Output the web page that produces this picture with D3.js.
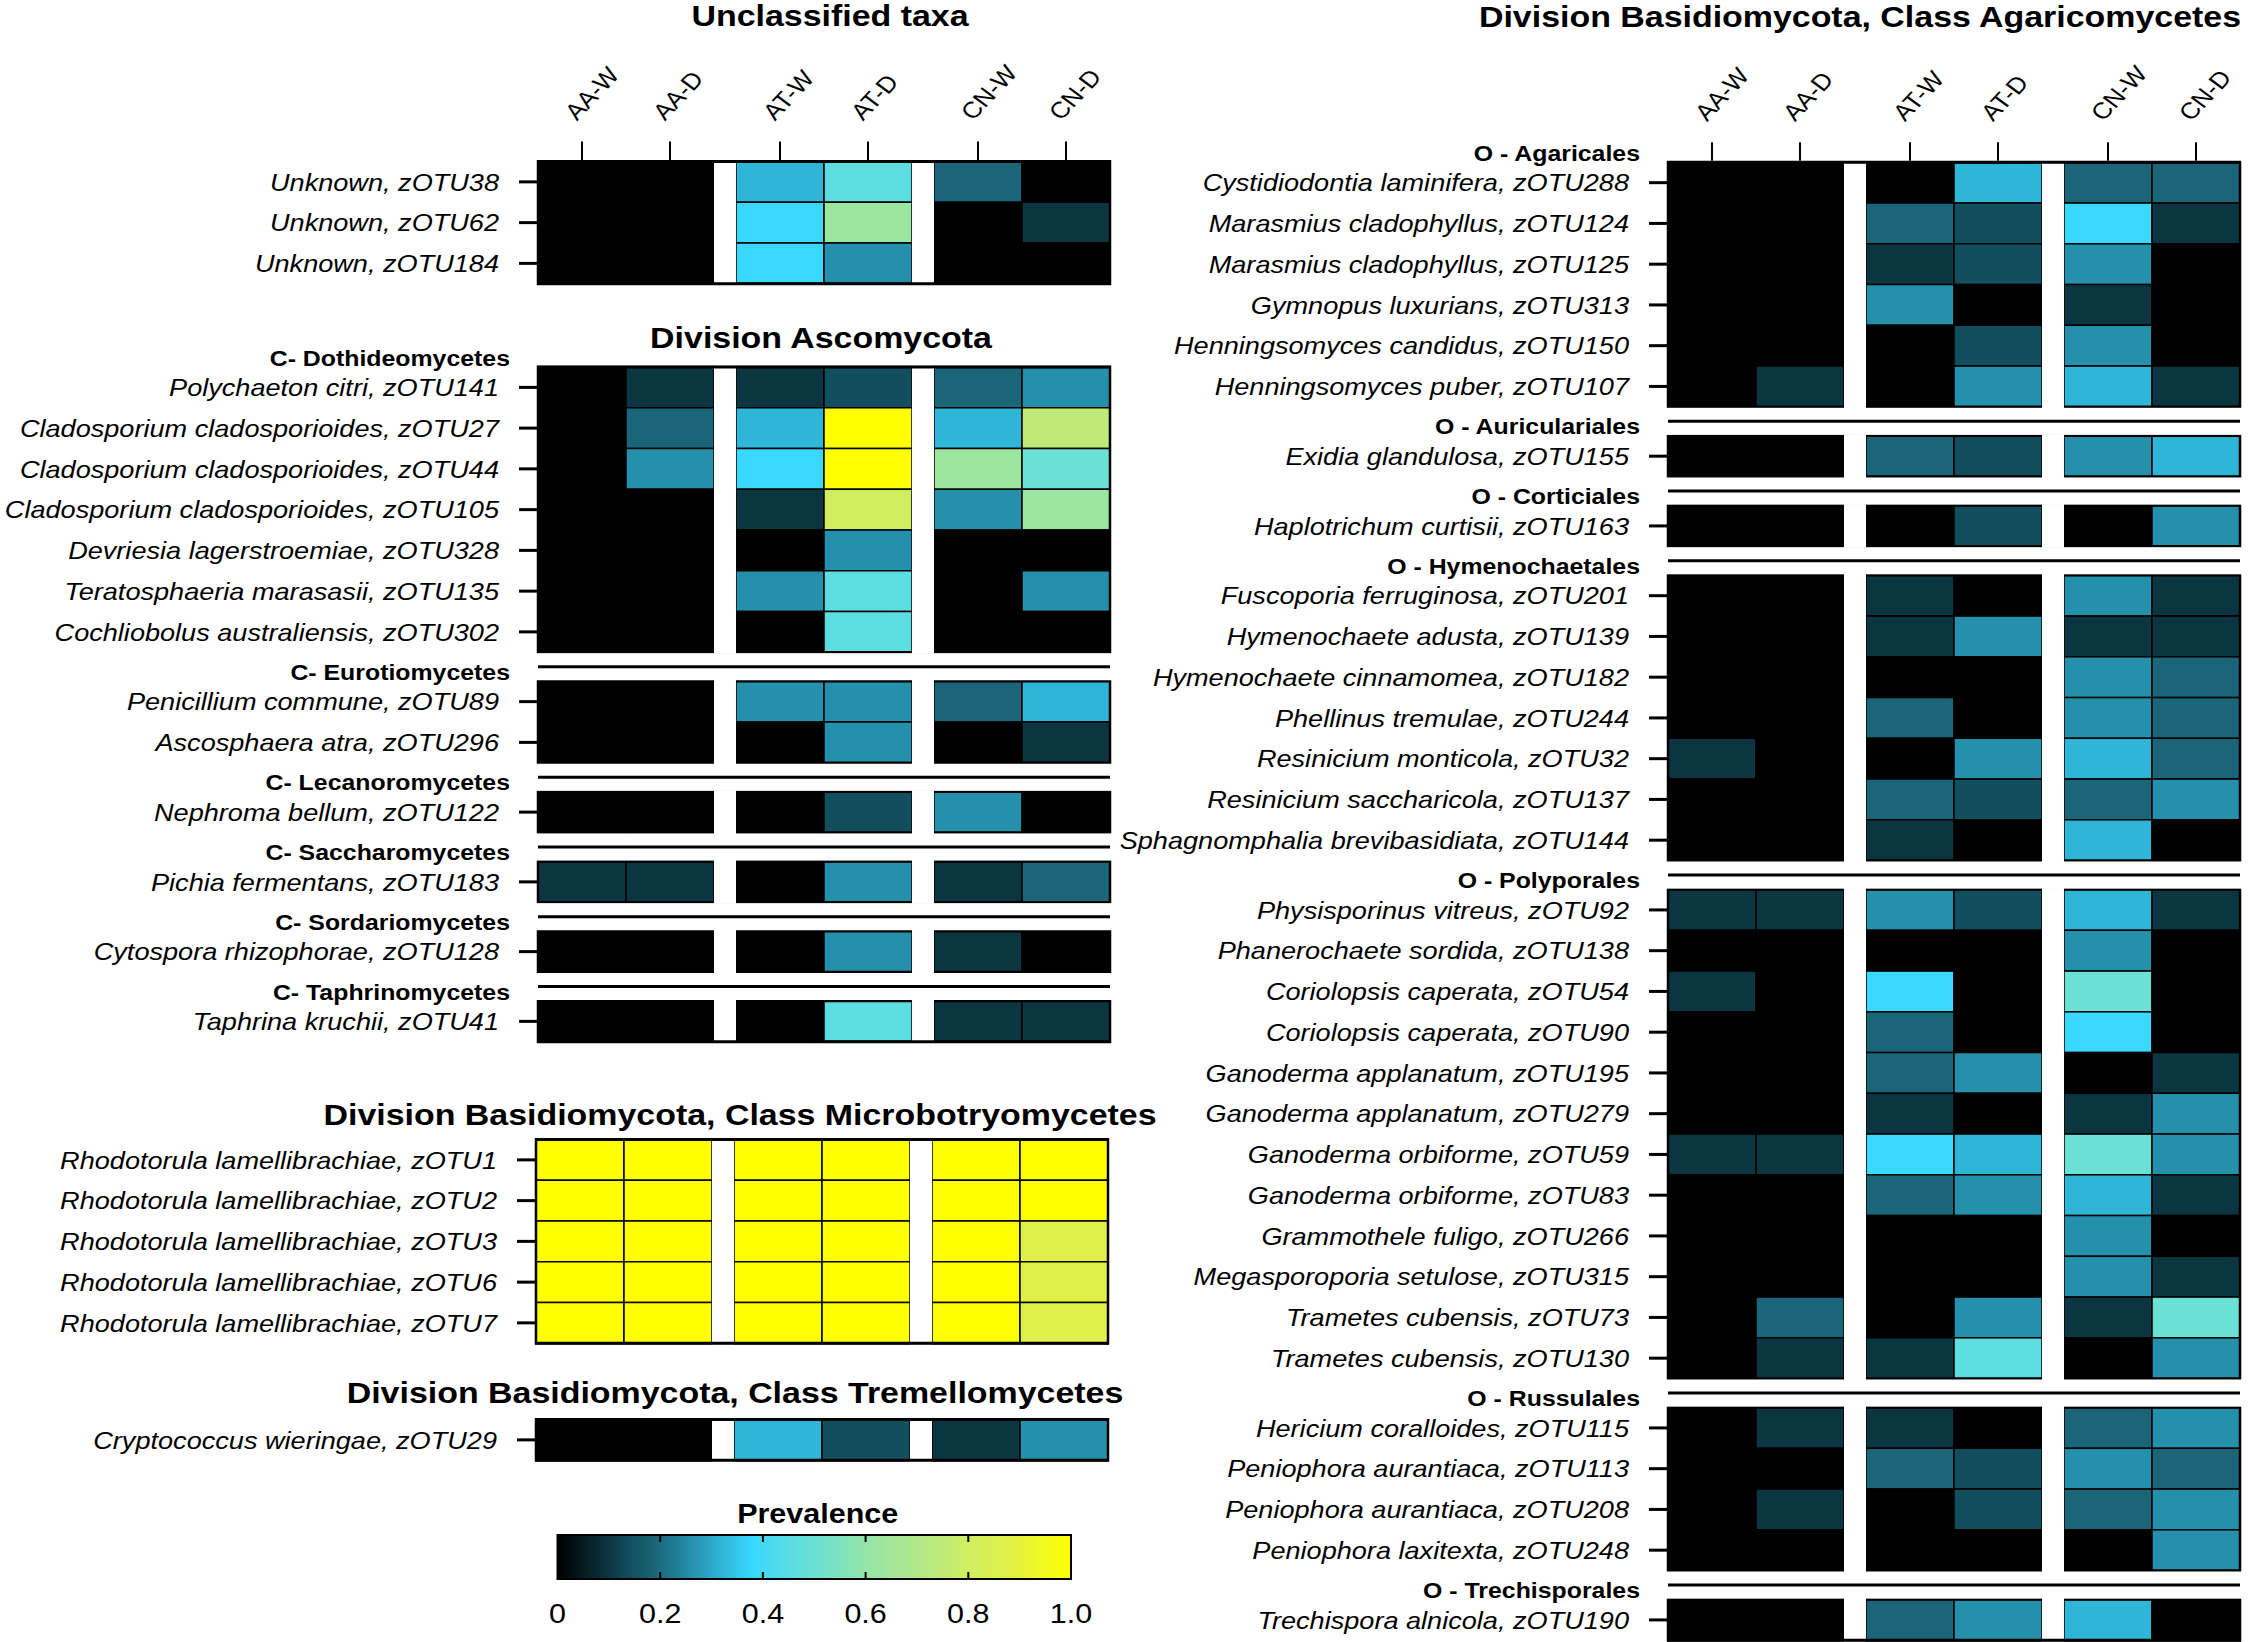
<!DOCTYPE html>
<html><head><meta charset="utf-8">
<script src="https://cdn.jsdelivr.net/npm/d3@7"></script>
<style>
html,body{margin:0;padding:0;background:#fff;}
svg{display:block;}
text{font-family:"Liberation Sans",Arial,Helvetica,sans-serif;fill:#000;}
</style>
</head><body>
<svg id="chart" width="2249" height="1642"></svg>
<script>
// ---------------- DATA ----------------
const columns = ["AA-W","AA-D","AT-W","AT-D","CN-W","CN-D"];
const sites = ["AA","AT","CN"];
const seasons = ["W","D"];

const unclassifiedTaxa = ["Unknown, zOTU38","Unknown, zOTU62","Unknown, zOTU184"];
const unclassifiedValues = [
  [0,0,0.32,0.46,0.19,0],
  [0,0,0.38,0.62,0,0.1],
  [0,0,0.38,0.26,0,0]
];

const ascoClasses = ["C- Dothideomycetes","C- Eurotiomycetes","C- Lecanoromycetes","C- Saccharomycetes","C- Sordariomycetes","C- Taphrinomycetes"];
const ascoTaxa = [
  ["Polychaeton citri, zOTU141","Cladosporium cladosporioides, zOTU27","Cladosporium cladosporioides, zOTU44","Cladosporium cladosporioides, zOTU105","Devriesia lagerstroemiae, zOTU328","Teratosphaeria marasasii, zOTU135","Cochliobolus australiensis, zOTU302"],
  ["Penicillium commune, zOTU89","Ascosphaera atra, zOTU296"],
  ["Nephroma bellum, zOTU122"],
  ["Pichia fermentans, zOTU183"],
  ["Cytospora rhizophorae, zOTU128"],
  ["Taphrina kruchii, zOTU41"]
];
const ascoValues = [
  [[0,0.1,0.1,0.14,0.19,0.26],[0,0.19,0.32,1,0.32,0.75],[0,0.26,0.38,1,0.62,0.5],[0,0,0.1,0.8,0.26,0.62],[0,0,0,0.26,0,0],[0,0,0.26,0.46,0,0.26],[0,0,0,0.46,0,0]],
  [[0,0,0.26,0.26,0.19,0.32],[0,0,0,0.26,0,0.1]],
  [[0,0,0,0.14,0.26,0]],
  [[0.1,0.1,0,0.26,0.1,0.19]],
  [[0,0,0,0.26,0.1,0]],
  [[0,0,0,0.46,0.1,0.1]]
];

const microTaxa = ["Rhodotorula lamellibrachiae, zOTU1","Rhodotorula lamellibrachiae, zOTU2","Rhodotorula lamellibrachiae, zOTU3","Rhodotorula lamellibrachiae, zOTU6","Rhodotorula lamellibrachiae, zOTU7"];
const microValues = [[1,1,1,1,1,1],[1,1,1,1,1,1],[1,1,1,1,1,0.88],[1,1,1,1,1,0.88],[1,1,1,1,1,0.88]];

const tremTaxa = ["Cryptococcus wieringae, zOTU29"];
const tremValues = [[0,0,0.32,0.14,0.1,0.26]];

const agaricOrders = ["O - Agaricales","O - Auriculariales","O - Corticiales","O - Hymenochaetales","O - Polyporales","O - Russulales","O - Trechisporales"];
const agaricTaxa = [
  ["Cystidiodontia laminifera, zOTU288","Marasmius cladophyllus, zOTU124","Marasmius cladophyllus, zOTU125","Gymnopus luxurians, zOTU313","Henningsomyces candidus, zOTU150","Henningsomyces puber, zOTU107"],
  ["Exidia glandulosa, zOTU155"],
  ["Haplotrichum curtisii, zOTU163"],
  ["Fuscoporia ferruginosa, zOTU201","Hymenochaete adusta, zOTU139","Hymenochaete cinnamomea, zOTU182","Phellinus tremulae, zOTU244","Resinicium monticola, zOTU32","Resinicium saccharicola, zOTU137","Sphagnomphalia brevibasidiata, zOTU144"],
  ["Physisporinus vitreus, zOTU92","Phanerochaete sordida, zOTU138","Coriolopsis caperata, zOTU54","Coriolopsis caperata, zOTU90","Ganoderma applanatum, zOTU195","Ganoderma applanatum, zOTU279","Ganoderma orbiforme, zOTU59","Ganoderma orbiforme, zOTU83","Grammothele fuligo, zOTU266","Megasporoporia setulose, zOTU315","Trametes cubensis, zOTU73","Trametes cubensis, zOTU130"],
  ["Hericium coralloides, zOTU115","Peniophora aurantiaca, zOTU113","Peniophora aurantiaca, zOTU208","Peniophora laxitexta, zOTU248"],
  ["Trechispora alnicola, zOTU190"]
];
const agaricValues = [
  [[0,0,0,0.32,0.19,0.19],[0,0,0.19,0.14,0.38,0.1],[0,0,0.1,0.14,0.26,0],[0,0,0.26,0,0.1,0],[0,0,0,0.14,0.26,0],[0,0.1,0,0.26,0.32,0.1]],
  [[0,0,0.19,0.14,0.26,0.32]],
  [[0,0,0,0.14,0,0.26]],
  [[0,0,0.1,0,0.26,0.1],[0,0,0.1,0.26,0.1,0.1],[0,0,0,0,0.26,0.19],[0,0,0.19,0,0.26,0.19],[0.1,0,0,0.26,0.32,0.19],[0,0,0.19,0.14,0.19,0.26],[0,0,0.1,0,0.32,0]],
  [[0.1,0.1,0.26,0.14,0.32,0.1],[0,0,0,0,0.26,0],[0.1,0,0.38,0,0.5,0],[0,0,0.19,0,0.38,0],[0,0,0.19,0.26,0,0.1],[0,0,0.1,0,0.1,0.26],[0.1,0.1,0.38,0.32,0.5,0.26],[0,0,0.19,0.26,0.32,0.1],[0,0,0,0,0.26,0],[0,0,0,0,0.26,0.1],[0,0.19,0,0.26,0.1,0.5],[0,0.1,0.1,0.46,0,0.26]],
  [[0,0.1,0.1,0,0.19,0.26],[0,0,0.19,0.14,0.26,0.19],[0,0.1,0,0.14,0.19,0.26],[0,0,0,0,0,0.26]],
  [[0,0,0.19,0.26,0.32,0]]
];

const legendTicks = [0,0.2,0.4,0.6,0.8,1.0];
const legendLabels = ["0","0.2","0.4","0.6","0.8","1.0"];
const colorStops = [0,0.1,0.14,0.19,0.26,0.32,0.38,0.46,0.5,0.62,0.75,0.8,0.88,1];
const colorRange = ["#000000","#0b3540","#124f5e","#1a6678","#2590ab","#2fb5d8","#38d8ff","#5edde0","#6be0d4","#9ae5a0","#c0ea78","#d0ee60","#e0f048","#ffff00"];

// ---------------- SETUP ----------------
const SX = 1.13;           // horizontal text stretch of the original figure
const RH = 40.75;          // row height
const SEP = 29 / RH;       // separator height in row units
const HM_W = 572;
const color = d3.scaleLinear().domain(colorStops).range(colorRange).clamp(true);
const svg = d3.select("#chart");

function txt(parent, x, y, str, o) {
  o = o || {};
  const sx = o.sx || SX;
  const g = parent.append("g").attr("transform", `translate(${x},${y}) scale(${sx},1)` + (o.rotate ? ` rotate(${o.rotate})` : ""));
  g.append("text")
    .attr("text-anchor", o.anchor || "start")
    .style("font-size", (o.size || 24) + "px")
    .style("font-weight", o.bold ? "bold" : "normal")
    .style("font-style", o.italic ? "italic" : "normal")
    .text(str);
  return g;
}

function drawBlock(x0, top, groupNames, taxaGroups, valueGroups, opts) {
  const g = svg.append("g");
  const outer = d3.scaleBand().domain(sites).range([x0, x0 + HM_W]).paddingInner(22 / 198).paddingOuter(0);
  const inner = d3.scaleBand().domain(seasons).range([0, outer.bandwidth()]);
  const colX = c => outer(c.split("-")[0]) + inner(c.split("-")[1]);
  const cw = inner.bandwidth();

  let u = 0;
  const groups = [];
  taxaGroups.forEach((taxa, gi) => {
    if (gi > 0) { groups.push({sep: true, start: u, end: u + SEP}); u += SEP; }
    const rows = taxa.map((t, ri) => ({label: t, values: valueGroups[gi][ri], u: u + ri}));
    groups.push({sep: false, name: groupNames ? groupNames[gi] : null, start: u, end: u + taxa.length, rows});
    u += taxa.length;
  });
  const y = d3.scaleLinear().domain([0, u]).range([top, top + u * RH]);

  const dataGroups = groups.filter(d => !d.sep);
  dataGroups.forEach(grp => {
    grp.rows.forEach(row => {
      columns.forEach((c, ci) => {
        g.append("rect")
          .attr("x", colX(c)).attr("y", y(row.u))
          .attr("width", cw).attr("height", y(row.u + 1) - y(row.u))
          .attr("fill", color(row.values[ci]))
          .attr("stroke", "#000").attr("stroke-width", 1.5);
      });
      const yc = y(row.u + 0.5);
      g.append("line").attr("x1", x0 - 19).attr("x2", x0).attr("y1", yc).attr("y2", yc)
        .attr("stroke", "#000").attr("stroke-width", 3);
      txt(g, x0 - 39, yc + 8.7, row.label, {anchor: "end", italic: true, size: 24});
    });
    g.append("rect").attr("x", x0).attr("y", y(grp.start)).attr("width", HM_W)
      .attr("height", y(grp.end) - y(grp.start)).attr("fill", "none")
      .attr("stroke", "#000").attr("stroke-width", 2.5);
    for (let i = 0; i < sites.length - 1; i++) {
      const gx = outer(sites[i]) + outer.bandwidth();
      g.append("rect").attr("x", gx).attr("y", y(grp.start) - 1.5)
        .attr("width", outer.step() - outer.bandwidth())
        .attr("height", y(grp.end) - y(grp.start) + 3).attr("fill", "#fff");
    }
    if (grp.name) {
      txt(g, x0 - 28, y(grp.start) - 1.5, grp.name, {anchor: "end", bold: true, size: 22});
    }
  });
  groups.filter(d => d.sep).forEach(s => {
    g.append("rect").attr("x", x0 - 2).attr("y", y(s.start) + 1).attr("width", HM_W + 4)
      .attr("height", y(s.end) - y(s.start) - 2).attr("fill", "#fff");
    const ym = y((s.start + s.end) / 2);
    g.append("line").attr("x1", x0).attr("x2", x0 + HM_W).attr("y1", ym).attr("y2", ym)
      .attr("stroke", "#000").attr("stroke-width", 3);
  });
  [0, u].forEach(v => {
    g.append("line").attr("x1", x0 - 1).attr("x2", x0 + HM_W + 1).attr("y1", y(v)).attr("y2", y(v))
      .attr("stroke", "#000").attr("stroke-width", 3);
  });
  if (opts && opts.colLabels) {
    columns.forEach(c => {
      const cx = colX(c) + cw / 2;
      g.append("line").attr("x1", cx).attr("x2", cx).attr("y1", top - 20).attr("y2", top - 1.5)
        .attr("stroke", "#000").attr("stroke-width", 2);
      txt(g, cx - 5, top - 40, c, {size: 23, rotate: -50});
    });
  }
  return g;
}

// ---------------- TITLES ----------------
const TT = {anchor: "middle", bold: true, size: 29, sx: 1.17};
txt(svg, 830, 26, "Unclassified taxa", TT);
txt(svg, 821, 348, "Division Ascomycota", TT);
txt(svg, 740, 1125, "Division Basidiomycota, Class Microbotryomycetes", TT);
txt(svg, 735, 1403, "Division Basidiomycota, Class Tremellomycetes", TT);
txt(svg, 1860, 27, "Division Basidiomycota, Class Agaricomycetes", TT);

// ---------------- BLOCKS ----------------
drawBlock(538, 161.5, null, [unclassifiedTaxa], [unclassifiedValues], {colLabels: true});
drawBlock(538, 367, ascoClasses, ascoTaxa, ascoValues);
drawBlock(536, 1139.5, null, [microTaxa], [microValues]);
drawBlock(536, 1419.5, null, [tremTaxa], [tremValues]);
drawBlock(1668, 162.3, agaricOrders, agaricTaxa, agaricValues, {colLabels: true});

// ---------------- LEGEND ----------------
const lx = d3.scaleLinear().domain([0, 1]).range([557.5, 1071]);
const defs = svg.append("defs");
const grad = defs.append("linearGradient").attr("id", "prevGrad").attr("x1", "0%").attr("x2", "100%").attr("y1", "0%").attr("y2", "0%");
d3.range(0, 1.0001, 0.01).forEach(t => {
  grad.append("stop").attr("offset", (t * 100) + "%").attr("stop-color", color(t));
});
const lg = svg.append("g");
txt(lg, 817.7, 1522.7, "Prevalence", {anchor: "middle", bold: true, size: 27});
lg.append("rect").attr("x", lx(0)).attr("y", 1535).attr("width", lx(1) - lx(0)).attr("height", 44)
  .attr("fill", "url(#prevGrad)").attr("stroke", "#000").attr("stroke-width", 2);
legendTicks.forEach((t, i) => {
  if (t > 0 && t < 1) {
    lg.append("line").attr("x1", lx(t)).attr("x2", lx(t)).attr("y1", 1535).attr("y2", 1542).attr("stroke", "#000").attr("stroke-width", 2);
    lg.append("line").attr("x1", lx(t)).attr("x2", lx(t)).attr("y1", 1572).attr("y2", 1579).attr("stroke", "#000").attr("stroke-width", 2);
  }
  txt(lg, lx(t), 1622.7, legendLabels[i], {anchor: "middle", size: 27});
});
</script>
</body></html>
